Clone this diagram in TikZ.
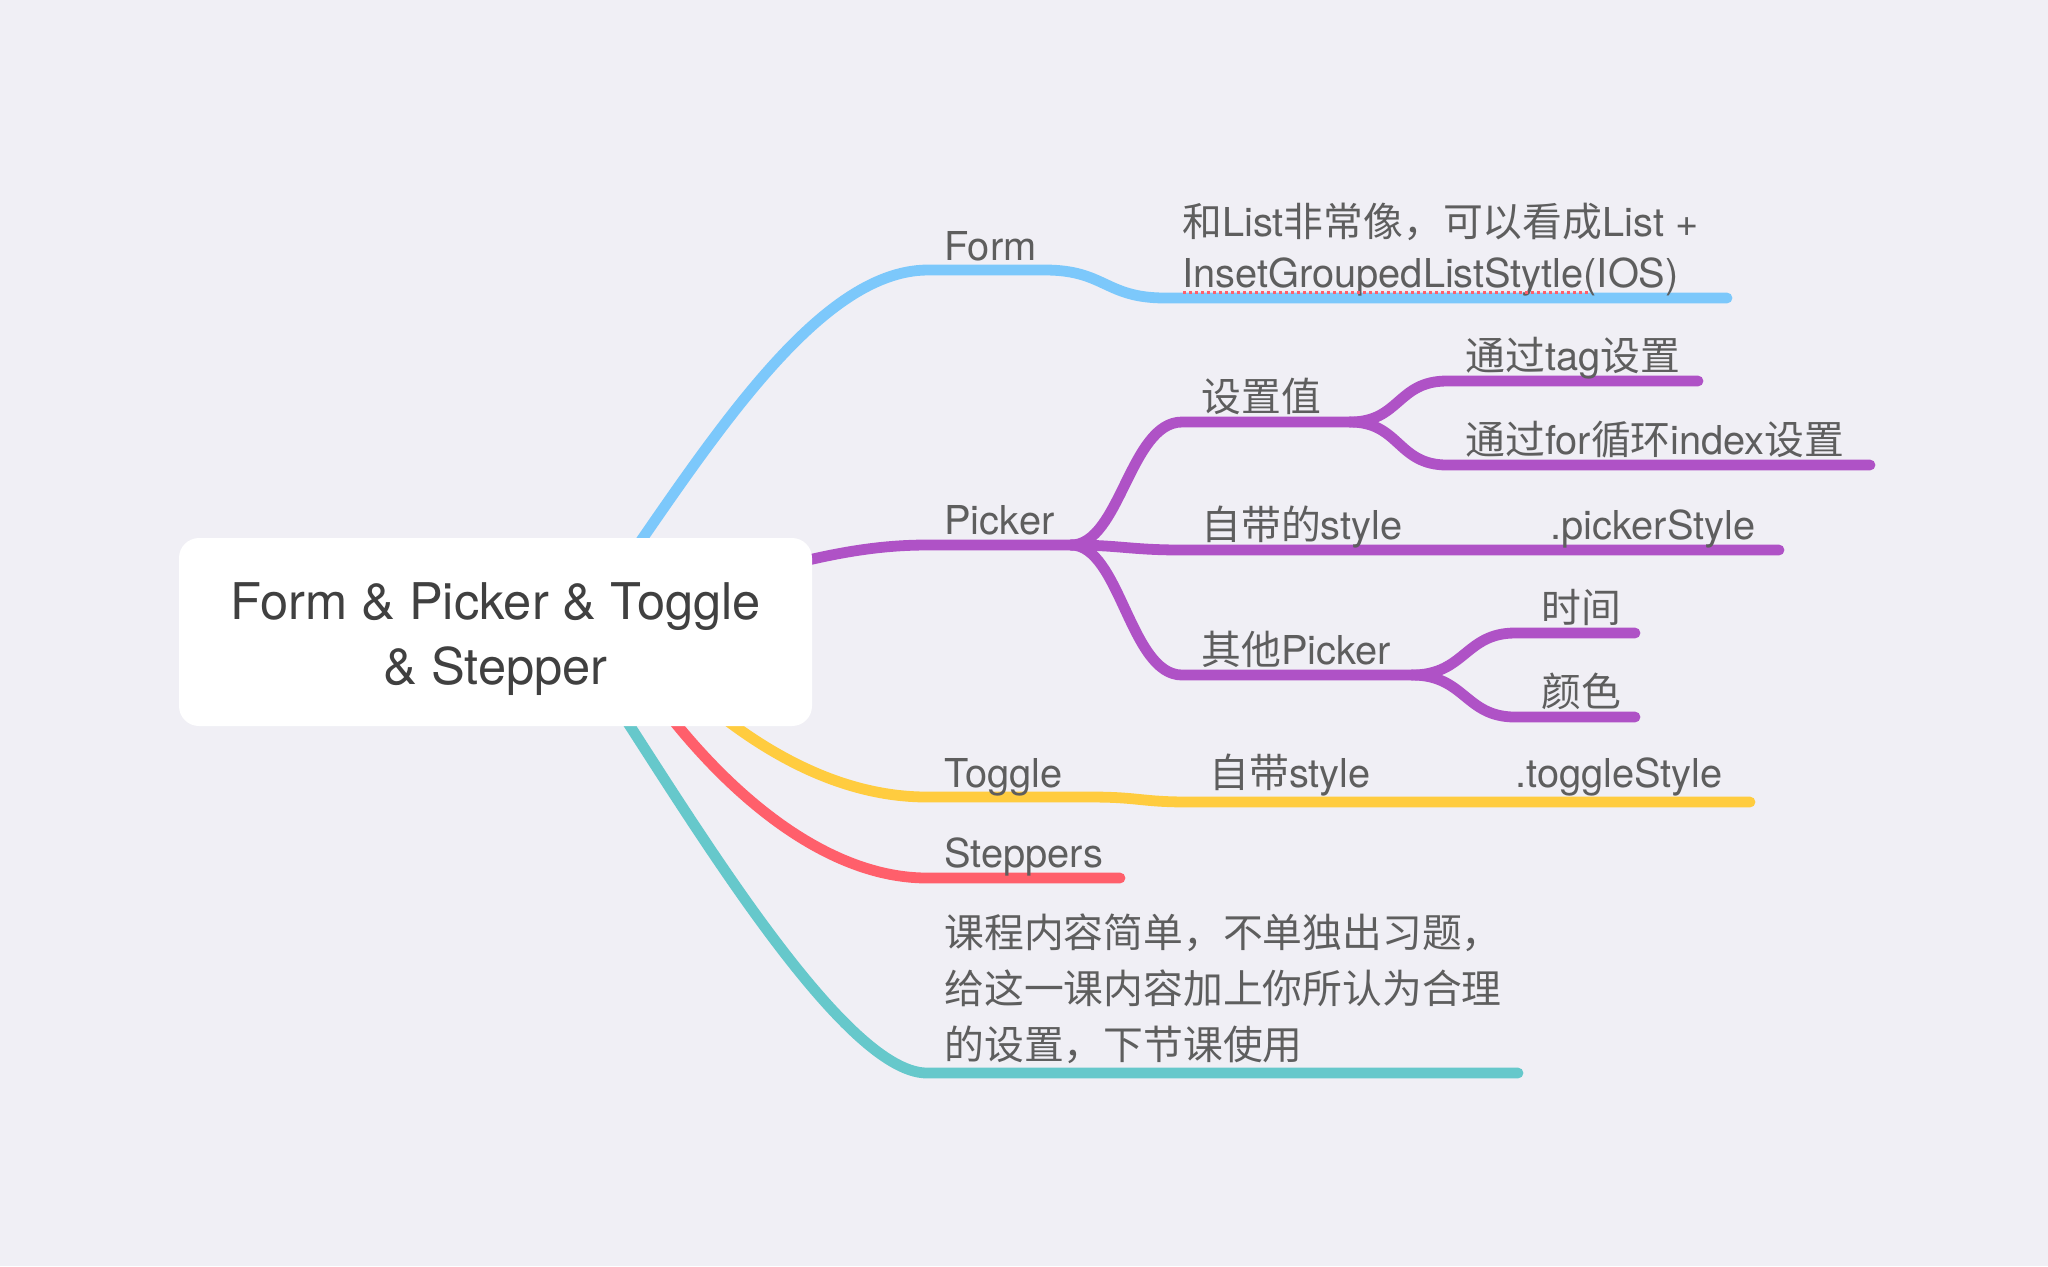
\documentclass[tikz,border=0pt]{standalone}
\usepackage{fontspec}
\setmainfont{TeX Gyre Heros}
\newfontfamily\cjk{Noto Sans CJK SC}
\newcommand\zh[1]{{\cjk #1}}
\definecolor{bgc}{HTML}{F0EFF5}
\definecolor{txt}{HTML}{5E5E5E}
\definecolor{roottxt}{HTML}{404040}
\definecolor{cblue}{HTML}{7CC8FB}
\definecolor{cpurple}{HTML}{AF52C6}
\definecolor{cyellow}{HTML}{FFCC3F}
\definecolor{cred}{HTML}{FF5F6B}
\definecolor{cteal}{HTML}{66C8CB}
\begin{document}
\begin{tikzpicture}[x=0.5pt,y=-0.5pt,
  br/.style={line width=5.4pt, line cap=round, line join=round},
  lbl/.style={anchor=base west, inner sep=0pt, text=txt, font=\fontsize{19.9}{24}\selectfont},
  rootbox/.style={fill=white, rounded corners=10pt, minimum width=316.5pt, minimum height=94pt, inner sep=0pt},
  roottext/.style={align=center, text=roottxt, font=\fontsize{25.3}{32.5}\selectfont, inner sep=0pt}
]
\fill[bgc] (0,0) rectangle (2048,1266);
\useasboundingbox (0,0) rectangle (2048,1266);

% coordinates
\coordinate (rB) at (600,600);
\coordinate (form) at (928,270);
\coordinate (formE) at (1045,270);
\coordinate (formD) at (1165,298);
\coordinate (formDE) at (1727,298);

\coordinate (rP) at (650,605);
\coordinate (pick) at (927,545);
\coordinate (pickJ) at (1071,545);
\coordinate (sz) at (1182,422);
\coordinate (szE) at (1350,422);
\coordinate (tag) at (1447,381);
\coordinate (tagE) at (1698,381);
\coordinate (forb) at (1447,465);
\coordinate (forE) at (1870,465);
\coordinate (zd) at (1182,550);
\coordinate (psE) at (1779,550);
\coordinate (qt) at (1182,675);
\coordinate (qtE) at (1412,675);
\coordinate (sj) at (1515,633);
\coordinate (sjE) at (1635,633);
\coordinate (ys) at (1515,717);
\coordinate (ysE) at (1635,717);

\coordinate (rY) at (690,690);
\coordinate (tg) at (927,797);
\coordinate (tgE) at (1090,797);
\coordinate (zs) at (1189,802);
\coordinate (tsE) at (1750,802);

\coordinate (rR) at (650,690);
\coordinate (st) at (927,878);
\coordinate (stE) at (1120,878);

\coordinate (rT) at (600,680);
\coordinate (ex) at (927,1073);
\coordinate (exE) at (1518,1073);

% branches
\draw[br,cblue] (rB) .. controls (705,450) and (815,270) .. (form) -- (formE)
  .. controls (1105,270) and (1105,298) .. (formD) -- (formDE);

\draw[br,cpurple] (rP) .. controls (780,565) and (850,545) .. (pick) -- (pickJ);
\draw[br,cpurple] (pickJ) .. controls (1120,545) and (1130,422) .. (sz) -- (szE);
\draw[br,cpurple] (szE) .. controls (1400,422) and (1397,381) .. (tag) -- (tagE);
\draw[br,cpurple] (szE) .. controls (1400,422) and (1397,465) .. (forb) -- (forE);
\draw[br,cpurple] (pickJ) .. controls (1120,545) and (1130,550) .. (zd) -- (psE);
\draw[br,cpurple] (pickJ) .. controls (1120,545) and (1130,675) .. (qt) -- (qtE);
\draw[br,cpurple] (qtE) .. controls (1465,675) and (1465,633) .. (sj) -- (sjE);
\draw[br,cpurple] (qtE) .. controls (1465,675) and (1465,717) .. (ys) -- (ysE);

\draw[br,cyellow] (rY) .. controls (780,770) and (860,797) .. (tg) -- (tgE)
  .. controls (1140,797) and (1140,802) .. (zs) -- (tsE);

\draw[br,cred] (rR) .. controls (730,800) and (830,878) .. (st) -- (stE);

\draw[br,cteal] (rT) .. controls (680,800) and (840,1073) .. (ex) -- (exE);

% root
\node[rootbox] (root) at (495.5,632) {};
\node[roottext] (rootT) at ([yshift=-3.5pt]root.center) {Form \& Picker \& Toggle\\\& Stepper};

% labels
\node[lbl] (tForm) at (944,260) {Form};
\node[lbl] (tFormD1) at (1182,236) {\zh{和}List\zh{非常像，可以看成}List +};
\node[lbl] (tFormD2) at (1182,287) {InsetGroupedListStytle(IOS)};
\draw[cred, line width=1.5pt, dash pattern=on 1.5pt off 1.5pt] (1183,292) -- (1588,292);

\node[lbl] (tPicker) at (944,534) {Picker};
\node[lbl] (tSz) at (1201,411) {\zh{设置值}};
\node[lbl] (tTag) at (1465,370) {\zh{通过}tag\zh{设置}};
\node[lbl] (tFor) at (1465,454) {\zh{通过}for\zh{循环}index\zh{设置}};
\node[lbl] (tZd) at (1201,539) {\zh{自带的}style};
\node[lbl] (tPs) at (1550,539) {.pickerStyle};
\node[lbl] (tQt) at (1201,664) {\zh{其他}Picker};
\node[lbl] (tSj) at (1541,622) {\zh{时间}};
\node[lbl] (tYs) at (1541,706) {\zh{颜色}};

\node[lbl] (tToggle) at (944,787) {Toggle};
\node[lbl] (tZs) at (1209,787) {\zh{自带}style};
\node[lbl] (tTs) at (1515,787) {.toggleStyle};

\node[lbl] (tSt) at (944,867) {Steppers};

\node[lbl] (tEx1) at (944,947) {\zh{课程内容简单，不单独出习题，}};
\node[lbl] (tEx2) at (944,1003) {\zh{给这一课内容加上你所认为合理}};
\node[lbl] (tEx3) at (944,1059) {\zh{的设置，下节课使用}};
\end{tikzpicture}
\end{document}
